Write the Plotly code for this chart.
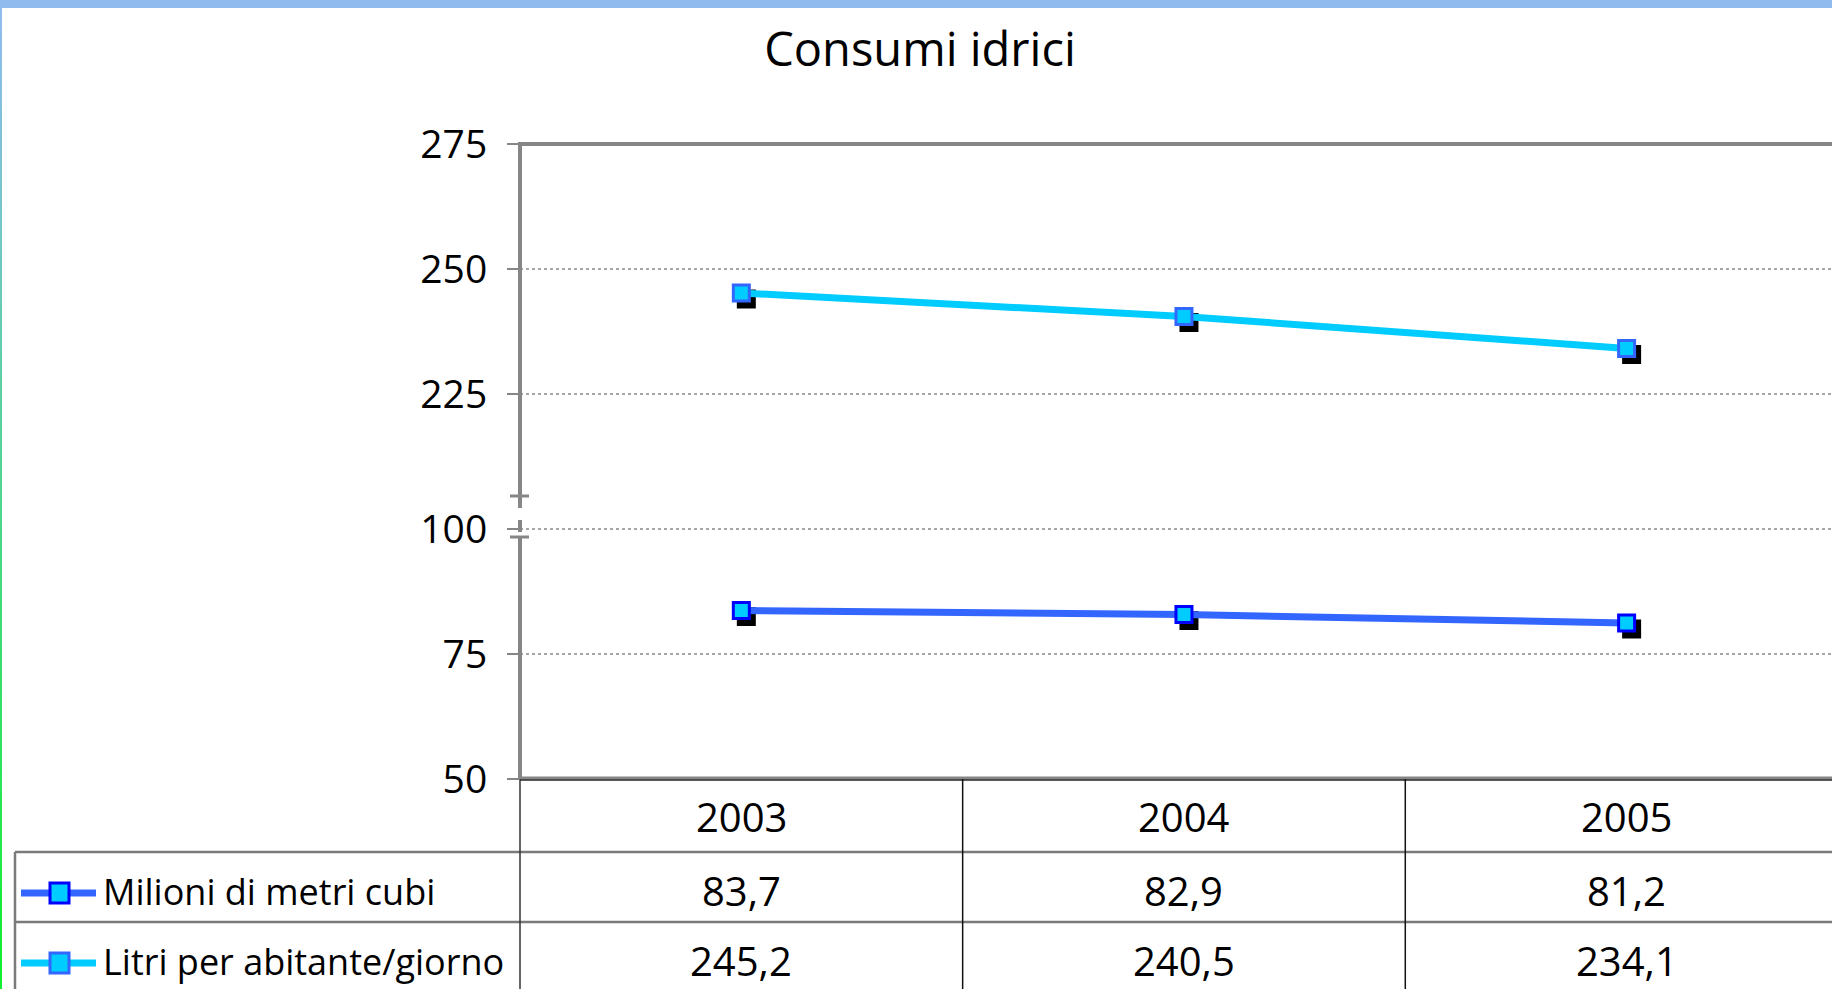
import plotly.graph_objects as go

# ---------------- data ----------------
years = ["2003", "2004", "2005"]
milioni_mc = [83.7, 82.9, 81.2]          # Milioni di metri cubi
litri_ab_g = [245.2, 240.5, 234.1]       # Litri per abitante/giorno
series_names = ["Milioni di metri cubi", "Litri per abitante/giorno"]
upper_ticks = [225, 250, 275]
lower_ticks = [50, 75, 100]
title_text = "Consumi idrici"

# ---------------- layout geometry (pixels) ----------------
W, H = 1832, 989
L, R, T, B = 520, 1832, 144, 779
UP_TOP, UP_BOT = 144, 496       # upper (broken) segment
LO_TOP, LO_BOT = 524, 779       # lower segment
BREAK_A, BREAK_B = 496, 537     # dashed break on the axis
PPU = 5.0                       # pixels per value unit
XR = [-0.5, 2.464]
DX, DY = 5, 6                   # marker shadow offset
FONT = "Open Sans"
GRAY = "#868686"

PW, PH = R - L, B - T
def fx(px):
    return (px - L) / PW
def fy(py):
    return (B - py) / PH

ppc = PW / (XR[1] - XR[0])
upper_range = [upper_ticks[-1] - (UP_BOT - UP_TOP) / PPU, upper_ticks[-1]]
lower_range = [lower_ticks[0], lower_ticks[0] + (LO_BOT - LO_TOP) / PPU]

fig = go.Figure()

# shadows (drawn first, on offset axes)
fig.add_trace(go.Scatter(x=years, y=milioni_mc, mode="markers", xaxis="x", yaxis="y",
                         marker=dict(symbol="square", size=19, color="black"),
                         cliponaxis=False, showlegend=False, hoverinfo="skip"))
fig.add_trace(go.Scatter(x=years, y=litri_ab_g, mode="markers", xaxis="x2", yaxis="y2",
                         marker=dict(symbol="square", size=19, color="black"),
                         cliponaxis=False, showlegend=False, hoverinfo="skip"))
# main series
fig.add_trace(go.Scatter(x=years, y=milioni_mc, mode="lines+markers", name=series_names[0],
                         xaxis="x3", yaxis="y3",
                         line=dict(color="#3366FF", width=7),
                         marker=dict(symbol="square", size=16, color="#00CCFF",
                                     line=dict(color="#0000FF", width=3)),
                         cliponaxis=False, showlegend=False))
fig.add_trace(go.Scatter(x=years, y=litri_ab_g, mode="lines+markers", name=series_names[1],
                         xaxis="x4", yaxis="y4",
                         line=dict(color="#00CCFF", width=7),
                         marker=dict(symbol="square", size=16, color="#00CCFF",
                                     line=dict(color="#3366FF", width=3)),
                         cliponaxis=False, showlegend=False))

hidden_x = dict(type="category", categoryorder="array", categoryarray=years,
                visible=False, showgrid=False, zeroline=False, fixedrange=True)
hidden_y = dict(visible=False, showgrid=False, zeroline=False, fixedrange=True)

shadow_xdom = [fx(L + DX), 1]
shadow_xr = [XR[0], XR[1] - DX / ppc]

yaxis_common = dict(showline=False, zeroline=False, ticks="outside", ticklen=12,
                    tickwidth=2, tickcolor=GRAY, showgrid=True, gridcolor="#A6A6A6",
                    griddash="dot", gridwidth=1.5, tickmode="array",
                    tickfont=dict(family=FONT, size=39, color="black"),
                    ticklabelstandoff=12, fixedrange=True)

fig.update_layout(
    width=W, height=H,
    margin=dict(l=L, r=W - R, t=T, b=H - B, pad=0),
    paper_bgcolor="white", plot_bgcolor="rgba(0,0,0,0)",
    showlegend=False, hovermode=False,
    title=dict(text=title_text, x=920 / W, xref="container", xanchor="center",
               y=1 - 50 / H, yref="container", yanchor="middle",
               font=dict(family=FONT, size=47, color="black")),
    xaxis=dict(hidden_x, domain=shadow_xdom, range=shadow_xr, anchor="y"),
    yaxis=dict(hidden_y, domain=[0, fy(LO_TOP + DY)],
               range=[lower_range[0] + DY / PPU, lower_range[1]], anchor="x"),
    xaxis2=dict(hidden_x, domain=shadow_xdom, range=shadow_xr, anchor="y2"),
    yaxis2=dict(hidden_y, domain=[fy(UP_BOT), fy(UP_TOP + DY)],
                range=[upper_range[0] + DY / PPU, upper_range[1]], anchor="x2"),
    xaxis3=dict(hidden_x, domain=[0, 1], range=XR, anchor="y3"),
    yaxis3=dict(yaxis_common, domain=[0, fy(LO_TOP)], range=lower_range,
                tickvals=lower_ticks, anchor="x3"),
    xaxis4=dict(hidden_x, domain=[0, 1], range=XR, anchor="y4"),
    yaxis4=dict(yaxis_common, domain=[fy(UP_BOT), 1], range=upper_range,
                tickvals=upper_ticks, anchor="x4"),
)

shapes = []
def pline(x0, y0, x1, y1, color, width, dash="solid"):
    shapes.append(dict(type="line", xref="paper", yref="paper",
                       x0=fx(x0), y0=fy(y0), x1=fx(x1), y1=fy(y1),
                       line=dict(color=color, width=width, dash=dash)))

# plot frame: top border, broken left axis, bottom border
pline(L, T, W + 5, T, GRAY, 4)
pline(L, T - 2, L, BREAK_A, GRAY, 4)
pline(L, BREAK_A, L, BREAK_B, GRAY, 4, "dash")
pline(L, BREAK_B, L, B, GRAY, 4)
pline(L - 10, BREAK_A, L + 9, BREAK_A, GRAY, 3)
pline(L - 10, BREAK_B, L + 9, BREAK_B, GRAY, 3)
pline(L, B - 1, W + 5, B - 1, GRAY, 3)
pline(L, B + 1, W + 5, B + 1, "#222222", 1.5)

# data table grid
ROW1_TOP, ROW2_TOP = 852, 922
pline(15, ROW1_TOP, W + 5, ROW1_TOP, "#7A7A7A", 2.5)
pline(15, ROW2_TOP, W + 5, ROW2_TOP, "#7A7A7A", 2.5)
pline(15, ROW1_TOP, 15, H + 5, "#7A7A7A", 2.5)
pline(L, B, L, H + 5, "#333333", 1.5)
for k in range(len(years) - 1):
    shapes.append(dict(type="line", xref="x3", yref="paper", x0=k + 0.5, x1=k + 0.5,
                       y0=fy(B), y1=fy(H + 5), line=dict(color="#111111", width=1.5)))

# legend keys in the table
key_style = [("#3366FF", "#0000FF"), ("#00CCFF", "#3366FF")]
row_centers = [893, 963]
for (lc, mc), yc in zip(key_style, row_centers):
    pline(21, yc, 96, yc, lc, 7)
    shapes.append(dict(type="rect", xref="paper", yref="paper",
                       x0=fx(50), x1=fx(69), y0=fy(yc - 10), y1=fy(yc + 10),
                       fillcolor="#00CCFF", line=dict(color=mc, width=3)))

# decorative window border: top band and left gradient edge
shapes.append(dict(type="rect", xref="paper", yref="paper", x0=fx(0), x1=fx(W + 5),
                   y0=fy(-5), y1=fy(8), fillcolor="#8FBBEF", line=dict(width=0)))
top_rgb, bot_rgb = (0x8F, 0xBB, 0xEF), (0x10, 0xF0, 0x30)
NSEG = 40
for i in range(NSEG):
    t = i / (NSEG - 1)
    c = tuple(int(a + (b - a) * t) for a, b in zip(top_rgb, bot_rgb))
    y0 = 8 + (H - 8) * i / NSEG
    y1 = 8 + (H - 8) * (i + 1) / NSEG
    shapes.append(dict(type="rect", xref="paper", yref="paper", x0=fx(-2), x1=fx(2),
                       y0=fy(y0), y1=fy(y1 + 1), fillcolor="rgb(%d,%d,%d)" % c,
                       line=dict(width=0)))

fig.update_layout(shapes=shapes)

# table texts (category axis annotations use category index positions)
ann = []
def fmt(v):
    return ("%.1f" % v).replace(".", ",")

for k, yr in enumerate(years):
    ann.append(dict(x=k, xref="x3", y=fy(816), yref="paper", text=yr, showarrow=False,
                    font=dict(family=FONT, size=40, color="black"), xanchor="center",
                    yanchor="middle"))
for vals, yc in zip([milioni_mc, litri_ab_g], [890, 960]):
    for k, v in enumerate(vals):
        ann.append(dict(x=k, xref="x3", y=fy(yc), yref="paper", text=fmt(v),
                        showarrow=False, font=dict(family=FONT, size=40, color="black"),
                        xanchor="center", yanchor="middle"))
for name, yc in zip(series_names, [891, 961]):
    ann.append(dict(x=fx(101), xref="paper", y=fy(yc), yref="paper", text=name,
                    showarrow=False, font=dict(family=FONT, size=36, color="black"),
                    xanchor="left", yanchor="middle"))
fig.update_layout(annotations=ann)

fig.write_html("out.html", config={"displayModeBar": False},
               post_script="document.body.style.margin='0';document.body.style.overflow='hidden';")
